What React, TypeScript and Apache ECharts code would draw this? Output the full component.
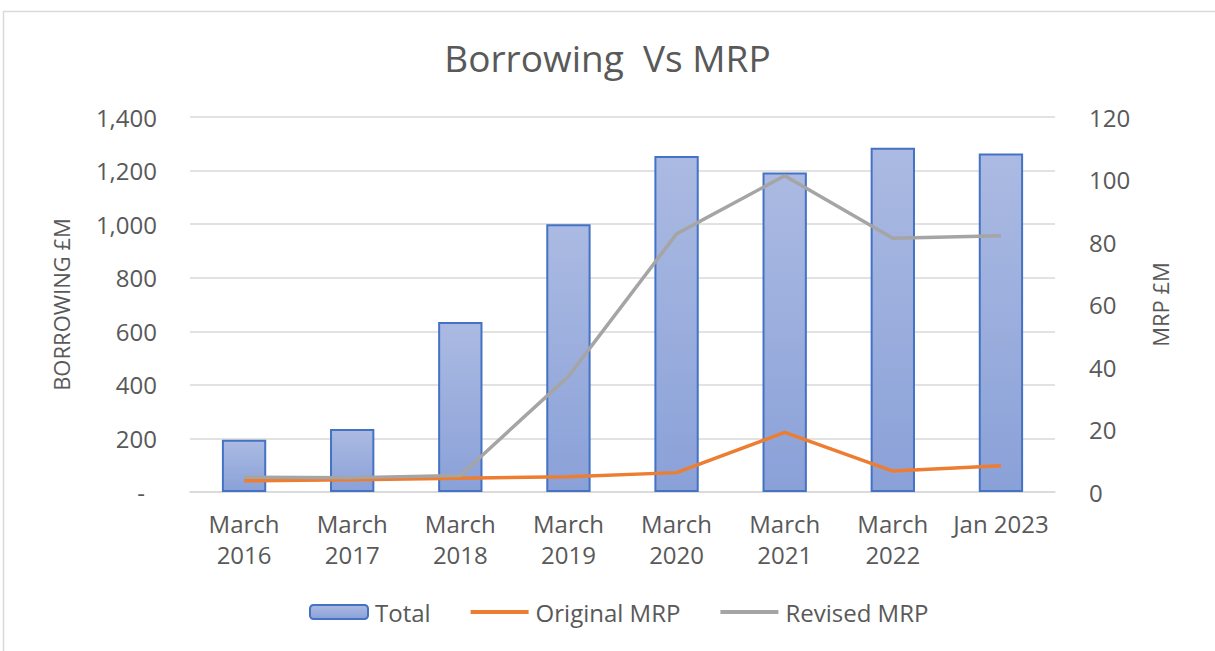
import React, { useEffect, useRef } from "react";
import * as echarts from "echarts";

const categories = ["March\n2016", "March\n2017", "March\n2018", "March\n2019", "March\n2020", "March\n2021", "March\n2022", "Jan 2023"];
const totalBorrowing = [195, 235, 635, 1000, 1254, 1193, 1285, 1264];
const originalMRP = [3.6, 3.9, 4.4, 4.9, 6.2, 19.1, 6.7, 8.4];
const revisedMRP = [4.7, 4.6, 5.3, 37, 82.6, 101.2, 81.2, 82.0];
const leftTicks = { min: 0, max: 1400, interval: 200 };
const rightTicks = { min: 0, max: 120, interval: 20 };

const FONT = "'Open Sans', sans-serif";
const TXT = "#595959";

export default function App() {
  const ref = useRef<HTMLDivElement>(null);
  useEffect(() => {
    if (!ref.current) return;
    const chart = echarts.init(ref.current, undefined, { renderer: "svg" });
    chart.setOption({
      animation: false,
      backgroundColor: "#ffffff",
      textStyle: { fontFamily: FONT, color: TXT },
      graphic: [
        {
          type: "rect",
          shape: { x: 3.5, y: 11.5, width: 1300, height: 700 },
          style: { fill: "none", stroke: "#d9d9d9", lineWidth: 1.5 },
          z: 0,
        },
      ],
      title: {
        text: "Borrowing  Vs MRP",
        left: "center",
        top: 34,
        textStyle: { fontFamily: FONT, fontSize: 37, fontWeight: "normal", color: TXT },
      },
      legend: {
        bottom: 22,
        left: 304,
        itemWidth: 58,
        itemHeight: 14,
        itemGap: 38,
        textStyle: { fontFamily: FONT, fontSize: 24, color: TXT, padding: [0, 0, 0, 2] },
        data: [
          { name: "Total" },
          { name: "Original MRP", itemStyle: { opacity: 0 }, lineStyle: { width: 4, color: "#ed7d31" } },
          { name: "Revised MRP", itemStyle: { opacity: 0 }, lineStyle: { width: 4, color: "#a5a5a5" } },
        ],
      },
      grid: { left: 190, right: 160, top: 117, bottom: 159, containLabel: false },
      xAxis: {
        type: "category",
        data: categories,
        axisTick: { show: false },
        axisLine: { lineStyle: { color: "#d9d9d9", width: 1.5 } },
        axisLabel: { fontFamily: FONT, fontSize: 24, color: TXT, lineHeight: 31, margin: 16, interval: 0 },
      },
      yAxis: [
        {
          type: "value",
          min: leftTicks.min,
          max: leftTicks.max,
          interval: leftTicks.interval,
          name: "BORROWING £M",
          nameLocation: "middle",
          nameRotate: 90,
          nameGap: 118,
          nameTextStyle: { fontFamily: FONT, fontSize: 22, color: TXT },
          axisLine: { show: false },
          axisTick: { show: false },
          splitLine: { lineStyle: { color: "#d9d9d9", width: 1.5 } },
          axisLabel: {
            fontFamily: FONT,
            fontSize: 24,
            color: TXT,
            margin: 33,
            formatter: (v: number) => (v === 0 ? "{d|-}" : v.toLocaleString("en-US")),
            rich: { d: { fontFamily: FONT, fontSize: 24, color: TXT, padding: [0, 12, 0, 0] } },
          },
        },
        {
          type: "value",
          min: rightTicks.min,
          max: rightTicks.max,
          interval: rightTicks.interval,
          name: "MRP £M",
          nameLocation: "middle",
          nameRotate: 90,
          nameGap: 94,
          nameTextStyle: { fontFamily: FONT, fontSize: 22, color: TXT },
          axisLine: { show: false },
          axisTick: { show: false },
          splitLine: { show: false },
          axisLabel: { fontFamily: FONT, fontSize: 24, color: TXT, margin: 34 },
        },
      ],
      series: [
        {
          name: "Total",
          type: "bar",
          data: totalBorrowing,
          barWidth: "41%",
          itemStyle: {
            color: new echarts.graphic.LinearGradient(0, 0, 0, 1, [
              { offset: 0, color: "#abbae2" },
              { offset: 1, color: "#8aa1d8" },
            ]),
            borderColor: "#4472c4",
            borderWidth: 2,
          },
        },
        {
          name: "Original MRP",
          type: "line",
          yAxisIndex: 1,
          data: originalMRP,
          symbol: "none",
          lineStyle: { color: "#ed7d31", width: 3.5 },
          itemStyle: { color: "#ed7d31" },
        },
        {
          name: "Revised MRP",
          type: "line",
          yAxisIndex: 1,
          data: revisedMRP,
          symbol: "none",
          lineStyle: { color: "#a5a5a5", width: 3.5 },
          itemStyle: { color: "#a5a5a5" },
        },
      ],
    });
    return () => chart.dispose();
  }, []);
  return (
    <div
      ref={ref}
      style={{ position: "fixed", left: 0, top: 0, width: 1215, height: 651, background: "#fff" }}
    />
  );
}
